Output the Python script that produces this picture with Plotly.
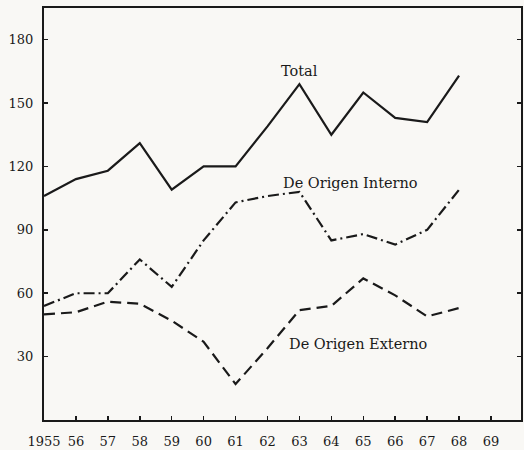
import plotly.graph_objects as go

years = list(range(1955, 1969))
total = [106, 114, 118, 131, 109, 120, 120, 139, 159, 135, 155, 143, 141, 163]
interno = [54, 60, 60, 76, 63, 85, 103, 106, 108, 85, 88, 83, 90, 109]
externo = [50, 51, 56, 55, 47, 37, 17, 34, 52, 54, 67, 59, 49, 53]

tick_years = list(range(1955, 1970))
tick_labels = ["1955"] + [str(y)[2:] for y in tick_years[1:]]
y_ticks = [30, 60, 90, 120, 150, 180]

FONT = "DejaVu Serif"
INK = "#1a1a1a"

fig = go.Figure()

fig.add_trace(go.Scatter(
    x=years, y=total, mode="lines",
    line=dict(color=INK, width=2.2),
    name="Total",
))
fig.add_trace(go.Scatter(
    x=years, y=interno, mode="lines",
    line=dict(color=INK, width=2.2, dash="11px,4px,2px,4px"),
    name="De Origen Interno",
))
fig.add_trace(go.Scatter(
    x=years, y=externo, mode="lines",
    line=dict(color=INK, width=2.2, dash="11px,6px"),
    name="De Origen Externo",
))

# in-chart labels
labels = [
    ("Total", 1963.0, 165),
    ("De Origen Interno", 1964.6, 112),
    ("De Origen Externo", 1964.85, 36),
]
for text, x, y in labels:
    fig.add_annotation(
        x=x, y=y, xref="x", yref="y", text=text, showarrow=False,
        font=dict(family=FONT, size=14.5, color=INK),
    )

fig.update_layout(
    width=524, height=450,
    margin=dict(l=44, r=1, t=8, b=30),
    paper_bgcolor="#f9f8f5",
    plot_bgcolor="#f9f8f5",
    showlegend=False,
    font=dict(family=FONT, color=INK),
    xaxis=dict(
        range=[1955, 1969.94],
        tickvals=tick_years, ticktext=tick_labels,
        ticks="inside", ticklen=4, tickwidth=1.5, tickcolor=INK,
        showline=True, linecolor=INK, linewidth=2, mirror=True,
        showgrid=False, zeroline=False,
        ticklabelstandoff=8,
        tickfont=dict(family=FONT, size=13, color=INK),
    ),
    yaxis=dict(
        range=[0, 195],
        tickvals=y_ticks,
        ticks="inside", ticklen=4, tickwidth=1.5, tickcolor=INK,
        showline=True, linecolor=INK, linewidth=2, mirror="ticks",
        showgrid=False, zeroline=False,
        ticklabelstandoff=6,
        tickfont=dict(family=FONT, size=13, color=INK),
    ),
)

fig.write_html(
    "out.html",
    config={"displayModeBar": False, "staticPlot": True},
    post_script="document.body.style.margin='0';",
)
